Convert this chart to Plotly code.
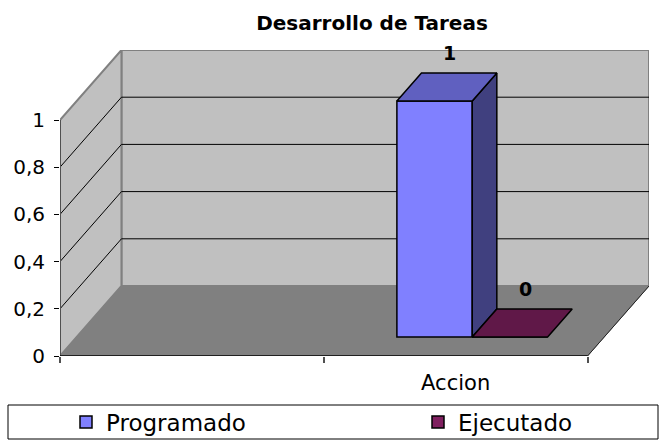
import plotly.graph_objects as go

# ---- data ----
categories = ["", "Accion"]
series_names = ["Programado", "Ejecutado"]
programado = [None, 1]
ejecutado = [None, 0]
y_tick_vals = [0, 0.2, 0.4, 0.6, 0.8, 1]
y_tick_text = ["0", "0,2", "0,4", "0,6", "0,8", "1"]
title_text = "Desarrollo de Tareas"

# ---- style / geometry ----
W_PX, H_PX = 666, 442
L, R, T, B = 60, 17, 50, 86
DX = 0.233          # oblique depth offset (category units)
DY = 0.2966         # oblique depth offset (value units)
F = 0.27            # bar front depth fraction
D = 0.40            # bar depth fraction
GAP = 1.5
BW = 1.0 / (len(series_names) + GAP)
YMAX = max(y_tick_vals)
NCAT = len(categories)

face_colors = {
    "Programado": ("#8080FF", "#6060C0", "#40407F"),
    "Ejecutado": ("#802060", "#601848", "#401030"),
}
FONT = "DejaVu Sans, Liberation Sans, Arial, sans-serif"

fig = go.Figure()

def poly(pts):
    return "M " + " L ".join(f"{x},{y}" for x, y in pts) + " Z"

shapes = []
shapes.append(dict(type="path", xref="x", yref="y", layer="below",
                   path=poly([(DX, DY), (NCAT + DX, DY), (NCAT + DX, YMAX + DY), (DX, YMAX + DY)]),
                   fillcolor="#C0C0C0", line=dict(color="#808080", width=2)))
shapes.append(dict(type="path", xref="x", yref="y", layer="below",
                   path=poly([(0, 0), (DX, DY), (DX, YMAX + DY), (0, YMAX)]),
                   fillcolor="#C0C0C0", line=dict(color="#808080", width=2)))
shapes.append(dict(type="path", xref="x", yref="y", layer="below",
                   path=poly([(0, 0), (NCAT, 0), (NCAT + DX, DY), (DX, DY)]),
                   fillcolor="#808080", line=dict(color="#808080", width=1)))
shapes.append(dict(type="line", xref="x", yref="y", layer="below",
                   x0=NCAT, y0=0, x1=NCAT + DX, y1=DY, line=dict(color="#202020", width=1)))
for v in y_tick_vals[1:-1]:
    shapes.append(dict(type="line", xref="x", yref="y", layer="below",
                       x0=DX, y0=v + DY, x1=NCAT + DX, y1=v + DY, line=dict(color="black", width=1)))
    shapes.append(dict(type="line", xref="x", yref="y", layer="below",
                       x0=0, y0=v, x1=DX, y1=v + DY, line=dict(color="black", width=1)))
shapes.append(dict(type="line", xref="x", yref="y", x0=0, y0=0, x1=0, y1=YMAX,
                   line=dict(color="#505050", width=2)))
shapes.append(dict(type="line", xref="x", yref="y", x0=0, y0=0, x1=NCAT, y1=0,
                   line=dict(color="black", width=1.5)))

pw = W_PX - L - R
ph = H_PX - T - B
def px2paper_x(p): return (p - L) / pw
def px2paper_y(p): return (H_PX - B - p) / ph
shapes.append(dict(type="rect", xref="paper", yref="paper",
                   x0=px2paper_x(8), x1=px2paper_x(658), y0=px2paper_y(439), y1=px2paper_y(405),
                   line=dict(color="black", width=1), fillcolor="rgba(0,0,0,0)"))

all_series = [programado, ejecutado]
legend_ids = ["legend", "legend2"]
annotations = []
for si, (name, vals) in enumerate(zip(series_names, all_series)):
    front, top, side = face_colors[name]
    xs, bases, hs = [], [], []
    for ci, v in enumerate(vals):
        if v is None:
            continue
        x0 = ci + 0.5 - BW * len(series_names) / 2 + si * BW + F * DX
        xs.append(x0 + BW / 2)
        bases.append(F * DY)
        hs.append(v)
    fig.add_trace(go.Bar(x=xs, y=hs, base=bases, width=BW, name=name,
                         marker=dict(color=front, line=dict(color="black", width=1.5)),
                         legend=legend_ids[si], showlegend=True))

for si, (name, vals) in enumerate(zip(series_names, all_series)):
    front, top, side = face_colors[name]
    for ci, v in enumerate(vals):
        if v is None:
            continue
        x0 = ci + 0.5 - BW * len(series_names) / 2 + si * BW + F * DX
        x1 = x0 + BW
        yb = F * DY
        yt = F * DY + v
        ddx, ddy = D * DX, D * DY
        if v > 0:
            fig.add_trace(go.Scatter(
                x=[x1, x1 + ddx, x1 + ddx, x1, x1], y=[yb, yb + ddy, yt + ddy, yt, yb],
                fill="toself", fillcolor=side, mode="lines",
                line=dict(color="black", width=1.5), showlegend=False, hoverinfo="skip"))
        fig.add_trace(go.Scatter(
            x=[x0, x1, x1 + ddx, x0 + ddx, x0], y=[yt, yt, yt + ddy, yt + ddy, yt],
            fill="toself", fillcolor=top, mode="lines",
            line=dict(color="black", width=1.5), showlegend=False, hoverinfo="skip"))
        annotations.append(dict(x=(x0 + x1) / 2 + ddx / 2, y=yt + ddy, xref="x", yref="y",
                                text=f"<b>{v:g}</b>", showarrow=False, yanchor="bottom",
                                yshift=7, xshift=3, font=dict(family=FONT, size=19, color="black")))

fig.update_layout(
    width=W_PX, height=H_PX,
    margin=dict(l=L, r=R, t=T, b=B, pad=0, autoexpand=False),
    paper_bgcolor="white", plot_bgcolor="white",
    barmode="overlay",
    shapes=shapes,
    annotations=annotations,
    font=dict(family=FONT, color="black"),
    title=dict(text=f"<b>{title_text}</b>", x=372 / W_PX, xanchor="center", xref="container",
               y=1 - 23 / H_PX, yanchor="middle", yref="container",
               font=dict(family=FONT, size=20, color="black")),
    xaxis=dict(range=[0, NCAT + DX], showgrid=False, zeroline=False, showline=False,
               tickvals=[i + 0.5 for i in range(NCAT)], ticktext=categories, ticks="",
               tickfont=dict(family=FONT, size=21), fixedrange=True, automargin=False,
               ticklabelstandoff=12,
               minor=dict(tickvals=list(range(NCAT + 1)), ticks="outside", ticklen=6,
                          tickcolor="#505050", tickwidth=1.5, showgrid=False)),
    yaxis=dict(range=[0, YMAX + DY], showgrid=False, zeroline=False, showline=False,
               tickvals=y_tick_vals, ticktext=y_tick_text, ticks="outside", ticklen=5,
               tickcolor="black", tickfont=dict(family=FONT, size=20), fixedrange=True,
               automargin=False, ticklabelstandoff=5),
    legend=dict(orientation="h", xref="container", yref="container",
                x=66 / W_PX, xanchor="left", y=1 - 422 / H_PX, yanchor="middle",
                font=dict(family=FONT, size=23), bgcolor="rgba(0,0,0,0)", borderwidth=0),
    legend2=dict(orientation="h", xref="container", yref="container",
                 x=418 / W_PX, xanchor="left", y=1 - 422 / H_PX, yanchor="middle",
                 font=dict(family=FONT, size=23), bgcolor="rgba(0,0,0,0)", borderwidth=0),
    showlegend=True,
)

fig.write_html("out.html", config={"displayModeBar": False},
               post_script="document.body.style.margin='0';")
